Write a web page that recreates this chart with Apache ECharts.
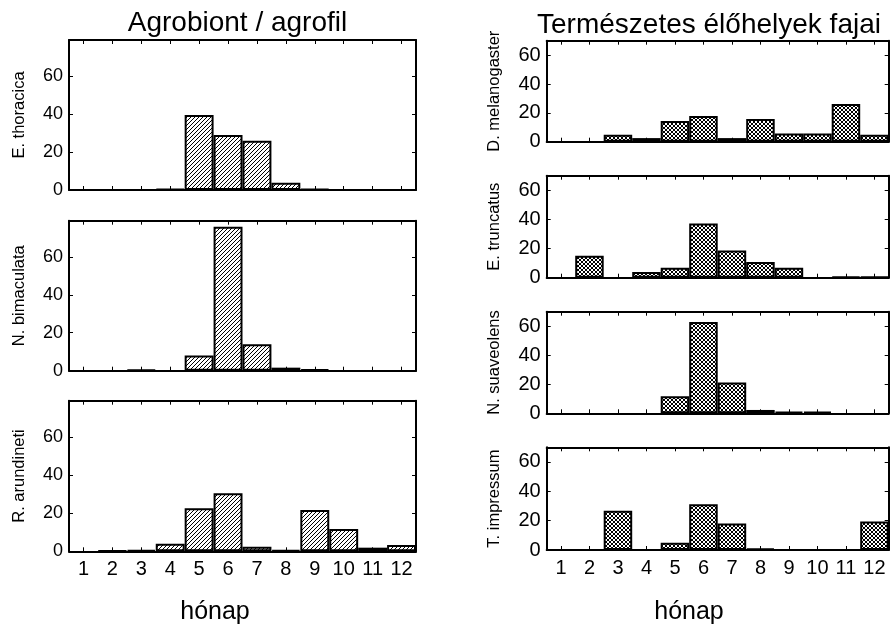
<!DOCTYPE html>
<html><head><meta charset="utf-8">
<script src="https://cdn.jsdelivr.net/npm/echarts@6/dist/echarts.min.js"></script>
<style>html,body{margin:0;padding:0;background:#fff}#c{width:892px;height:633px}</style>
</head><body><div id="c"></div>
<script>
// ---- data ----
const months = ['1','2','3','4','5','6','7','8','9','10','11','12'];
const yTicks = [0, 20, 40, 60];
// Agrobiont / agrofil
const thoracica  = [0, 0, 0, 0.6, 39.5, 29, 26, 3.8, 0.6, 0, 0, 0];
const bimaculata = [0, 0, 0.5, 0, 8, 75.8, 13.9, 1.6, 0.8, 0, 0, 0];
const arundineti = [0, 0.3, 0.7, 4, 22.6, 30.5, 2.4, 0.7, 21.7, 11.7, 1.9, 3.3];
// Természetes élőhelyek fajai
const melanogaster = [0, 0, 4.8, 2.5, 14.4, 17.8, 2.5, 15.8, 5.7, 5.7, 26.1, 4.8];
const truncatus    = [0, 15, 0, 3.9, 6.9, 37.2, 18.6, 10.8, 6.9, 0, 0.7, 0.7];
const suaveolens   = [0, 0, 0, 0, 11.8, 62.9, 21.3, 2.3, 1, 1, 0, 0];
const impressum    = [0, 0, 26.7, 0, 5, 31.2, 18.1, 1, 0, 0, 0, 19.5];

const FONT = '"Liberation Sans", Arial, sans-serif';

function makePattern(kind){
  const c = document.createElement('canvas'); c.width = 4; c.height = 4;
  const ctx = c.getContext('2d');
  ctx.fillStyle = '#fff'; ctx.fillRect(0,0,4,4);
  ctx.fillStyle = '#000';
  for (let i = 0; i < 4; i++) {
    ctx.fillRect(i, 3 - i, 1, 1);
    if (kind === 'x') ctx.fillRect(i, i, 1, 1);
  }
  return c;
}
const patD = makePattern('d');
const patX = makePattern('x');

const panels = [
  {name:'E. thoracica',   data:thoracica,   left:69,  top:40,    width:347, height:150, max:79, pat:patD, fs:18, showX:false, nameX:19},
  {name:'N. bimaculata',  data:bimaculata,  left:69,  top:220.7, width:347, height:150, max:79, pat:patD, fs:18, showX:false, nameX:19},
  {name:'R. arundineti',  data:arundineti,  left:69,  top:400.7, width:347, height:150.6, max:79, pat:patD, fs:18, showX:true, nameX:19},
  {name:'D. melanogaster',data:melanogaster,left:546.7,top:40.7, width:342, height:101, max:70, pat:patX, fs:20, showX:false, nameX:494},
  {name:'E. truncatus',   data:truncatus,   left:546.7,top:175.7,width:342, height:102, max:70, pat:patX, fs:20, showX:false, nameX:494},
  {name:'N. suaveolens',  data:suaveolens,  left:546.7,top:311.7,width:342, height:101.6, max:70, pat:patX, fs:20, showX:false, nameX:494},
  {name:'T. impressum',   data:impressum,   left:546.7,top:447.3,width:342, height:102.7, max:70, pat:patX, fs:20, showX:true, nameX:494}
];

const grid = [], xAxis = [], yAxis = [], series = [], graphic = [];
const lineS = {color:'#000', width:2};
panels.forEach((p, i) => {
  grid.push({left:p.left, top:p.top, width:p.width, height:p.height, containLabel:false});
  const xBase = {
    type:'category', gridIndex:i, data:months,
    axisLine:{show:true, onZero:false, lineStyle:lineS},
    axisTick:{show:true, inside:true, alignWithLabel:true, length:4, lineStyle:{color:'#000', width:1}},
    splitLine:{show:false}
  };
  xAxis.push(Object.assign({}, xBase, {position:'bottom',
    axisLabel:{show:p.showX, color:'#000', fontSize:20, fontFamily:FONT, margin:8, interval:0}}));
  xAxis.push(Object.assign({}, xBase, {position:'top', axisLabel:{show:false}}));
  const yBase = {
    type:'value', gridIndex:i, min:0, max:p.max, interval:20,
    axisLine:{show:true, onZero:false, lineStyle:lineS},
    axisTick:{show:true, inside:true, length:4, lineStyle:{color:'#000', width:1}},
    splitLine:{show:false}
  };
  yAxis.push(Object.assign({}, yBase, {position:'left',
    axisLabel:{show:true, color:'#000', fontSize:p.fs, fontFamily:FONT, margin:6,
      formatter: v => yTicks.indexOf(v) >= 0 ? String(v) : ''}}));
  yAxis.push(Object.assign({}, yBase, {position:'right', axisLabel:{show:false}}));
  series.push({
    type:'bar', xAxisIndex:2*i, yAxisIndex:2*i,
    data:p.data.map(v => v === 0 ? '-' : v),
    barWidth:'100%',
    itemStyle:{color:{image:p.pat, repeat:'repeat'}, borderColor:'#000', borderWidth:2},
    silent:true
  });
  graphic.push({type:'text', x:p.nameX, y:p.top + p.height/2, rotation:Math.PI/2,
    style:{text:p.name, font:'16.5px ' + FONT, fill:'#000', align:'center', verticalAlign:'middle'}});
});

graphic.push({type:'text', x:237.5, y:23, style:{text:'Agrobiont / agrofil', font:'28px ' + FONT, fill:'#000', align:'center', verticalAlign:'middle'}});
graphic.push({type:'text', x:709, y:25, style:{text:'Természetes élőhelyek fajai', font:'28px ' + FONT, fill:'#000', align:'center', verticalAlign:'middle'}});
graphic.push({type:'text', x:215, y:612, style:{text:'hónap', font:'25px ' + FONT, fill:'#000', align:'center', verticalAlign:'middle'}});
graphic.push({type:'text', x:689, y:612, style:{text:'hónap', font:'25px ' + FONT, fill:'#000', align:'center', verticalAlign:'middle'}});

const chart = echarts.init(document.getElementById('c'), null, {renderer:'canvas'});
chart.setOption({animation:false, backgroundColor:'#fff', grid, xAxis, yAxis, series, graphic});
</script>
</body></html>
